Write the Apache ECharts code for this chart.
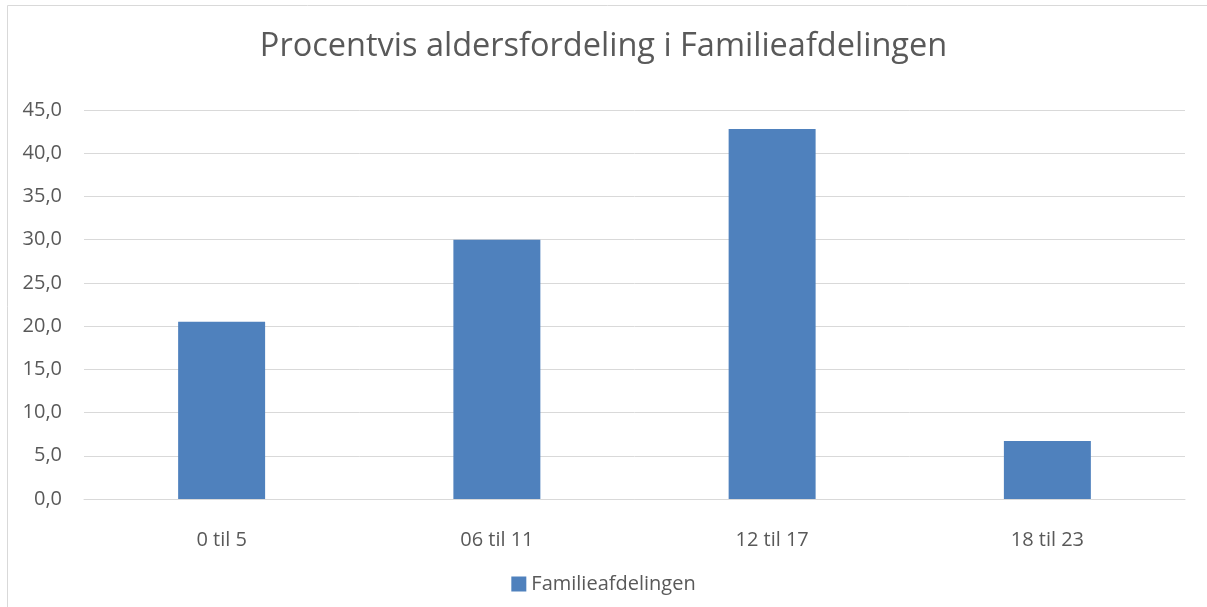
<!DOCTYPE html>
<html>
<head>
<meta charset="utf-8">
<script src="https://cdn.jsdelivr.net/npm/echarts@6/dist/echarts.min.js"></script>
<style>
  html, body { margin: 0; padding: 0; background: #fff; }
  #main { width: 1207px; height: 607px; }
</style>
</head>
<body>
<div id="main"></div>
<script>
// data
var categories = ['0 til 5', '06 til 11', '12 til 17', '18 til 23'];
var seriesName = 'Familieafdelingen';
var values = [20.5, 30.0, 42.8, 6.7];
var yTicks = [0, 5, 10, 15, 20, 25, 30, 35, 40, 45];

var myChart = echarts.init(document.getElementById('main'));
var textColor = '#595959';
var font = 'Open Sans';

var option = {
  animation: false,
  title: {
    text: 'Procentvis aldersfordeling i Familieafdelingen',
    left: 'center',
    top: 25,
    textStyle: { color: textColor, fontSize: 32.5, fontWeight: 'normal', fontFamily: font }
  },
  graphic: [{
    type: 'rect',
    shape: { x: 7.5, y: 5.5, width: 1210, height: 620 },
    style: { fill: 'none', stroke: '#d9d9d9', lineWidth: 1 },
    silent: true
  }],
  legend: {
    bottom: 8,
    left: 'center',
    itemWidth: 15,
    itemHeight: 15,
    itemGap: 6,
    icon: 'rect',
    textStyle: { color: textColor, fontSize: 20, fontFamily: font },
    data: [seriesName]
  },
  grid: { left: 84, right: 22, top: 110, bottom: 108 },
  xAxis: {
    type: 'category',
    data: categories,
    axisLine: { lineStyle: { color: '#d9d9d9' } },
    axisTick: { show: false },
    axisLabel: { color: textColor, fontSize: 20, fontFamily: font, margin: 31 }
  },
  yAxis: {
    type: 'value',
    min: yTicks[0],
    max: yTicks[yTicks.length - 1],
    interval: 5,
    axisLine: { show: false },
    axisTick: { show: false },
    splitLine: { lineStyle: { color: '#d9d9d9' } },
    axisLabel: {
      color: textColor, fontSize: 20, fontFamily: font, margin: 22,
      formatter: function (v) { return v.toFixed(1).replace('.', ','); }
    }
  },
  series: [{
    name: seriesName,
    type: 'bar',
    barWidth: '31.6%',
    itemStyle: { color: '#4f81bd' },
    data: values
  }]
};
myChart.setOption(option);
</script>
</body>
</html>
